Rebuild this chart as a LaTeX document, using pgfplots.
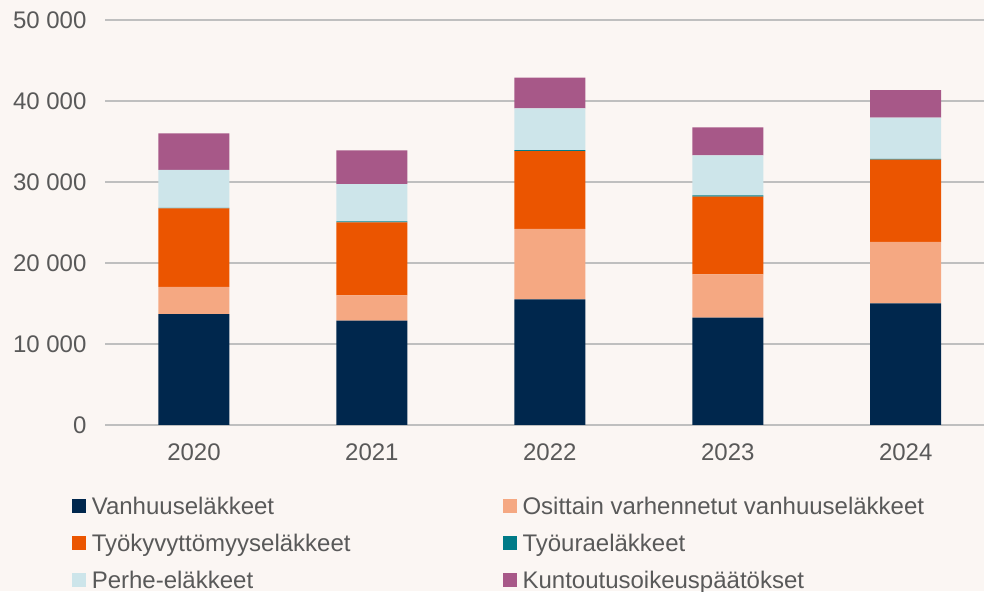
\documentclass[border=0pt]{standalone}
\usepackage{pgfplots}
\pgfplotsset{compat=1.18}
\usepackage{fontspec}
\setmainfont{Liberation Sans}
\definecolor{bg}{HTML}{FBF6F3}
\definecolor{txt}{HTML}{595959}
\definecolor{grid}{HTML}{DCDCDC}
\definecolor{c1}{HTML}{00274D}
\definecolor{c2}{HTML}{F5A882}
\definecolor{c3}{HTML}{EB5500}
\definecolor{c4}{HTML}{007A87}
\definecolor{c5}{HTML}{CDE5EA}
\definecolor{c6}{HTML}{A75888}
\begin{document}
\begin{tikzpicture}
\useasboundingbox (0,0) rectangle (984pt,591pt);
\fill[bg] (0,0) rectangle (984pt,591pt);
\begin{axis}[
  at={(105pt,166pt)}, anchor=south west,
  scale only axis, width=879pt, height=405pt,
  ybar stacked, bar width=71pt,
  xmin=-0.5, xmax=4.44, ymin=0, ymax=50000,
  xtick=data, xticklabels={2020,2021,2022,2023,2024},
  ytick={0,10000,20000,30000,40000,50000},
  scaled y ticks=false,
  /pgf/number format/1000 sep={\ },
  /pgf/number format/assume math mode=true,
  ymajorgrids, xmajorgrids=false, grid style={grid, line width=1.5pt},
  axis line style={draw=none},
  major tick length=0pt,
  tick label style={font=\fontsize{24}{28}\selectfont, text=txt},
  xticklabel style={yshift=-15pt},
  yticklabel style={xshift=-15pt},
  legend columns=2,
  legend cell align=left,
  legend style={at={(-0.038,-0.172)}, anchor=north west, draw=none, fill=none,
    font=\fontsize{24}{28}\selectfont, text=txt, row sep=14pt, inner sep=0pt,
    /tikz/column 1/.style={column sep=4pt},
    /tikz/column 2/.style={column sep=150pt},
    /tikz/column 3/.style={column sep=4pt}},
  legend image code/.code={\fill[#1] (0pt,-7pt) rectangle (14pt,7pt);},
]
\addplot[fill=c1, draw=none] coordinates {(0,13700) (1,12900) (2,15500) (3,13250) (4,15000)};
\addplot[fill=c2, draw=none] coordinates {(0,3350) (1,3100) (2,8700) (3,5350) (4,7600)};
\addplot[fill=c3, draw=none] coordinates {(0,9700) (1,9000) (2,9600) (3,9600) (4,10150)};
\addplot[fill=c4, draw=none] coordinates {(0,40) (1,150) (2,150) (3,150) (4,100)};
\addplot[fill=c5, draw=none] coordinates {(0,4700) (1,4600) (2,5150) (3,4950) (4,5100)};
\addplot[fill=c6, draw=none] coordinates {(0,4500) (1,4150) (2,3800) (3,3450) (4,3400)};
\legend{Vanhuuseläkkeet, Osittain varhennetut vanhuuseläkkeet, Työkyvyttömyyseläkkeet, Työuraeläkkeet, Perhe-eläkkeet, Kuntoutusoikeuspäätökset}
\end{axis}
\end{tikzpicture}
\end{document}
